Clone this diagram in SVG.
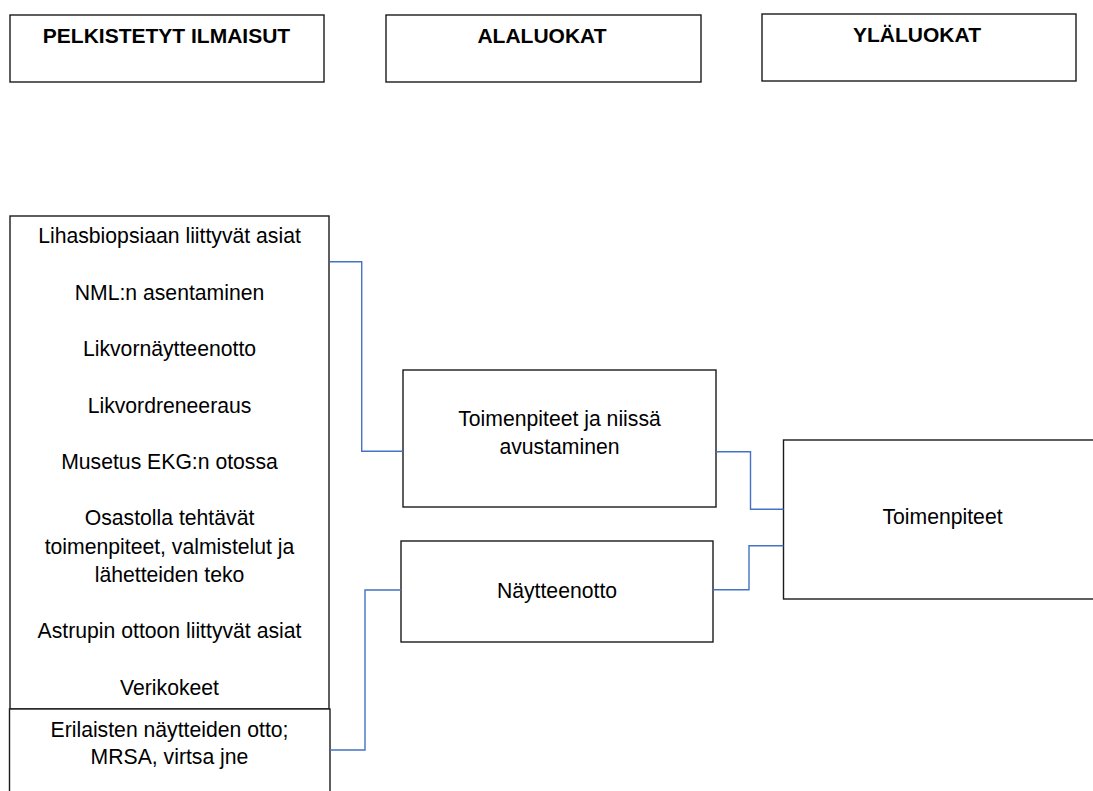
<svg xmlns="http://www.w3.org/2000/svg" width="1093" height="791" viewBox="0 0 1093 791">
<style>
.box{fill:#fff;stroke:#1a1a1a;stroke-width:1.4}
.hd{font-family:"Liberation Sans",Arial,sans-serif;font-weight:bold;font-size:21px;fill:#000;text-anchor:middle}
.tx{font-family:"Liberation Sans",Arial,sans-serif;font-size:21.2px;fill:#000;text-anchor:middle}
.cn{fill:none;stroke:#4472C4;stroke-width:1.4}
</style>
<rect width="1093" height="791" fill="#fff"/>
<g id="header-pelkistetyt">
<rect class="box" x="10" y="15" width="314" height="67"/>
<text class="hd" x="166.5" y="43">PELKISTETYT ILMAISUT</text>
</g>
<g id="header-alaluokat">
<rect class="box" x="386" y="15" width="315" height="67"/>
<text class="hd" x="542" y="43">ALALUOKAT</text>
</g>
<g id="header-ylaluokat">
<rect class="box" x="762" y="14" width="314" height="67"/>
<text class="hd" x="917" y="42">YLÄLUOKAT</text>
</g>
<g id="node-ilmaisut">
<rect class="box" x="10" y="216" width="319" height="493"/>
<text class="tx" x="169.5" y="243.3">Lihasbiopsiaan liittyvät asiat</text>
<text class="tx" x="169.5" y="299.7">NML:n asentaminen</text>
<text class="tx" x="169.5" y="356.1">Likvornäytteenotto</text>
<text class="tx" x="169.5" y="412.5">Likvordreneeraus</text>
<text class="tx" x="169.5" y="468.9">Musetus EKG:n otossa</text>
<text class="tx" x="169.5" y="525.3">Osastolla tehtävät</text>
<text class="tx" x="169.5" y="553.5">toimenpiteet, valmistelut ja</text>
<text class="tx" x="169.5" y="581.7">lähetteiden teko</text>
<text class="tx" x="169.5" y="638.3">Astrupin ottoon liittyvät asiat</text>
<text class="tx" x="169.5" y="695">Verikokeet</text>
</g>
<g id="node-erilaisten">
<rect class="box" x="9.5" y="709" width="320.5" height="100"/>
<text class="tx" x="169.5" y="736.7">Erilaisten näytteiden otto;</text>
<text class="tx" x="169.5" y="764">MRSA, virtsa jne</text>
</g>
<g id="node-toimenpiteet-avustaminen">
<rect class="box" x="403" y="370" width="313" height="137"/>
<text class="tx" x="559.5" y="425.7">Toimenpiteet ja niissä</text>
<text class="tx" x="559.5" y="454.3">avustaminen</text>
</g>
<g id="node-naytteenotto">
<rect class="box" x="401" y="541" width="312" height="101"/>
<text class="tx" x="557" y="597.7">Näytteenotto</text>
</g>
<g id="node-toimenpiteet">
<rect class="box" x="783.5" y="440" width="330" height="159"/>
<text class="tx" x="942.5" y="524">Toimenpiteet</text>
</g>
<g id="connectors">
<polyline class="cn" points="330,261.7 361.7,261.7 361.7,451.3 403,451.3"/>
<polyline class="cn" points="330,750 365,750 365,590 401,590"/>
<polyline class="cn" points="716,451.7 750.5,451.7 750.5,509.3 783.5,509.3"/>
<polyline class="cn" points="713,589.7 749,589.7 749,545.7 783.5,545.7"/>
</g>
</svg>
